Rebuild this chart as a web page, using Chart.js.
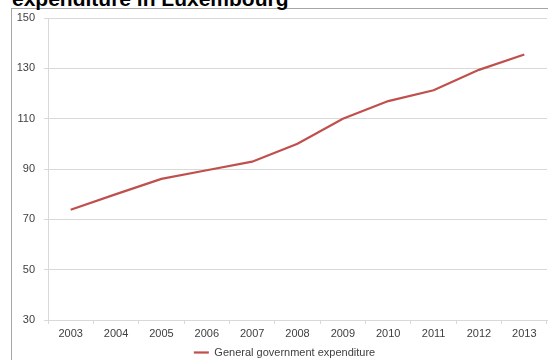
<!DOCTYPE html>
<html>
<head>
<meta charset="utf-8">
<script src="https://cdn.jsdelivr.net/npm/chart.js@4"></script>
<style>
  html, body { margin: 0; padding: 0; background: #fff; overflow: hidden; }
  body { width: 548px; height: 360px; position: relative; }
  .frame {
    position: absolute; left: 11px; top: 8px; width: 600px; height: 400px;
    border-left: 1px solid #a6a6a6; border-top: 1px solid #a6a6a6;
  }
  .title {
    position: absolute; left: 12px; top: -12px; margin: 0;
    font: bold 21px/21px "Liberation Sans", Arial, sans-serif; color: #000; white-space: nowrap;
  }
  #chart { position: absolute; left: 0; top: 0; }
</style>
</head>
<body>
<div class="frame"></div>
<p class="title">expenditure in Luxembourg</p>
<canvas id="chart" width="548" height="360"></canvas>
<script>
  const years = ["2003", "2004", "2005", "2006", "2007", "2008", "2009", "2010", "2011", "2012", "2013"];
  const expenditure = [73.8, 80.0, 86.1, 89.5, 92.9, 100.0, 110.0, 117.0, 121.3, 129.4, 135.5];
  const seriesName = "General government expenditure";
  const yTicks = [30, 50, 70, 90, 110, 130, 150];

  const red = "#c0504d";
  const gridGrey = "#d9d9d9";
  const font = { family: "'Liberation Sans', Arial, sans-serif", size: 11 };

  // the original legend is centred on the framed area, a bit right of the canvas centre
  const legendShift = {
    id: "legendShift",
    afterLayout(chart) {
      chart.legend.left += 22;
    },
  };

  new Chart(document.getElementById("chart"), {
    type: "line",
    data: {
      labels: years,
      datasets: [
        {
          label: seriesName,
          data: expenditure,
          borderColor: red,
          backgroundColor: red,
          borderWidth: 2.25,
          pointRadius: 0,
          tension: 0,
        },
      ],
    },
    options: {
      responsive: false,
      animation: false,
      devicePixelRatio: 1,
      layout: { padding: { top: 18, right: 1, left: 0, bottom: -8 } },
      scales: {
        x: {
          offset: true,
          grid: { offset: true, drawOnChartArea: false, tickLength: 4, color: gridGrey },
          border: { color: gridGrey },
          ticks: { color: "#404040", font: font, padding: 3, maxRotation: 0, autoSkip: false },
          afterFit: (s) => { s.height = 24; },
        },
        y: {
          min: yTicks[0],
          max: yTicks[yTicks.length - 1],
          ticks: { stepSize: 20, color: "#404040", font: font, padding: 9 },
          grid: { color: gridGrey, tickLength: 4 },
          border: { color: gridGrey },
          afterFit: (s) => { s.width = 48; },
        },
      },
      plugins: {
        legend: {
          position: "bottom",
          labels: {
            usePointStyle: true,
            pointStyle: "line",
            pointStyleWidth: 15,
            padding: 3,
            color: "#404040",
            font: font,
          },
        },
        tooltip: { enabled: false },
      },
    },
    plugins: [legendShift],
  });
</script>
</body>
</html>
